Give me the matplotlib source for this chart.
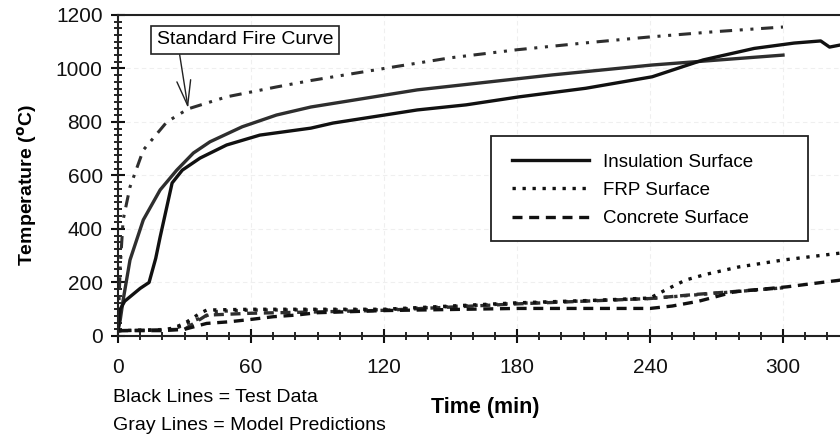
import numpy as np
import matplotlib.pyplot as plt
from matplotlib.ticker import MultipleLocator
from matplotlib.patches import Rectangle

plt.rcParams['font.family'] = ['Liberation Sans', 'DejaVu Sans']

# standard fire curve (model input)
fire_t = [0, 1, 2.3, 5.4, 11.4, 22, 31.6, 49, 71.5, 87, 120, 150, 180, 210, 240, 270, 300]
fire_T = [20, 260, 434, 557, 695, 800, 849, 894, 931, 955, 1000, 1040, 1070, 1095, 1118, 1138, 1155]

# insulation surface
ins_test_t = [0, 1, 3, 10, 14, 17, 19, 22, 24.4, 29, 37, 49, 64, 87, 97, 135, 157, 181, 211, 241, 264, 287, 305, 317, 321, 326]
ins_test_T = [20, 100, 130, 178, 200, 290, 370, 482, 572, 620, 665, 714, 751, 777, 796, 845, 864, 894, 926, 969, 1032, 1075, 1095, 1103, 1080, 1088]
ins_model_t = [0, 1, 2.3, 5.4, 11.4, 19, 26.5, 34, 41.5, 56, 71.5, 87, 135, 196, 241, 300]
ins_model_T = [20, 60, 134, 284, 434, 546, 620, 684, 726, 782, 826, 856, 920, 976, 1013, 1050]

# FRP surface
frp_test_t = [0, 20, 25, 30, 37, 40, 60, 120, 180, 217, 240, 247, 256, 265, 280, 300, 326]
frp_test_T = [20, 22, 30, 47, 85, 97, 100, 100, 124, 134, 142, 172, 209, 230, 258, 284, 310]
frp_model_t = [0, 25, 35, 45, 60, 120, 180, 240, 270, 300]
frp_model_T = [20, 25, 60, 92, 97, 98, 122, 140, 160, 180]

# concrete surface
con_test_t = [0, 20, 30, 40, 50, 60, 70, 80, 90, 120, 180, 240, 250, 262, 278, 302, 326]
con_test_T = [20, 20, 25, 47, 53, 62, 72, 78, 87, 95, 103, 103, 112, 130, 165, 184, 209]
con_model_t = [0, 30, 40, 60, 90, 120, 180, 240, 260, 300]
con_model_T = [20, 25, 78, 85, 90, 96, 120, 140, 155, 180]

x_ticks = [0, 60, 120, 180, 240, 300]
y_ticks = [0, 200, 400, 600, 800, 1000, 1200]
legend_labels = ['Insulation Surface', 'FRP Surface', 'Concrete Surface']

fig = plt.figure(figsize=(8.4, 4.38), dpi=100)
ax = fig.add_axes([0.1405, 0.2329, 0.8708, 0.7329])

black = '#111111'
gray = '#2e2e2e'
lw = 2.4

ax.plot(fire_t, fire_T, color=gray, lw=2.2, linestyle=(0, (4, 2.5, 1, 2.5, 1, 2.5)))
ax.plot(ins_model_t, ins_model_T, color=gray, lw=lw)
ax.plot(frp_model_t, frp_model_T, color=gray, lw=lw, linestyle=(0, (1, 2)))
ax.plot(con_model_t, con_model_T, color=gray, lw=lw, linestyle=(0, (3, 2)))

l1, = ax.plot(ins_test_t, ins_test_T, color=black, lw=lw)
l2, = ax.plot(frp_test_t, frp_test_T, color=black, lw=lw, linestyle=(0, (1, 2)))
l3, = ax.plot(con_test_t, con_test_T, color=black, lw=lw, linestyle=(0, (3, 2)))

ax.set_xlim(0, 330)
ax.set_ylim(0, 1200)
ax.set_xticks(x_ticks)
ax.set_yticks(y_ticks)
ax.xaxis.set_minor_locator(MultipleLocator(10))
ax.yaxis.set_minor_locator(MultipleLocator(25))
ax.tick_params(which='major', direction='inout', length=10, width=1.5, labelsize=15, colors='#111111')
ax.tick_params(axis='x', which='major', pad=11)
ax.tick_params(axis='y', which='major', pad=6)
ax.tick_params(which='minor', direction='inout', length=6, width=1.2)
for s in ax.spines.values():
    s.set_linewidth(1.5)
    s.set_color('#222222')

ax.grid(True, which='major', color='#efefef', lw=0.8, linestyle=(0, (4, 3)))
ax.set_axisbelow(True)

ax.set_ylabel('Temperature ($^{\\mathbf{o}}$C)', fontsize=14, fontweight='bold')
ax.yaxis.set_label_coords(-0.108, 0.47)
ax.set_xlabel('Time (min)', fontsize=15.5, fontweight='bold')
ax.xaxis.set_label_coords(0.502, -0.19)

# legend box drawn separately so it can be wider than its entries
ax.add_patch(Rectangle((0.510, 0.296), 0.433, 0.327, transform=ax.transAxes,
                       fc='white', ec='#222222', lw=1.3, zorder=4))
leg = ax.legend([l1, l2, l3], legend_labels,
                loc='upper left', bbox_to_anchor=(0.512, 0.63), fontsize=13.5,
                frameon=False, handlelength=4.1, handletextpad=0.75,
                borderpad=0.55, labelspacing=0.6)
leg.set_zorder(5)

ax.annotate('Standard Fire Curve', xy=(31.6, 852), xytext=(57.3, 1107),
            fontsize=14, ha='center', va='center',
            bbox=dict(boxstyle='square,pad=0.3', fc='white', ec='#222222', lw=1.2),
            arrowprops=dict(arrowstyle='->,head_length=0.9,head_width=0.25', color='#222222',
                            lw=1.0, mutation_scale=20, shrinkA=0, shrinkB=0,
                            relpos=(0.124, 0)))

fig.text(113 / 840, 1 - 398 / 438, 'Black Lines = Test Data', fontsize=14, va='center', ha='left')
fig.text(113 / 840, 1 - 425 / 438, 'Gray Lines = Model Predictions', fontsize=14, va='center', ha='left')

fig.savefig('out.png', dpi=100)
